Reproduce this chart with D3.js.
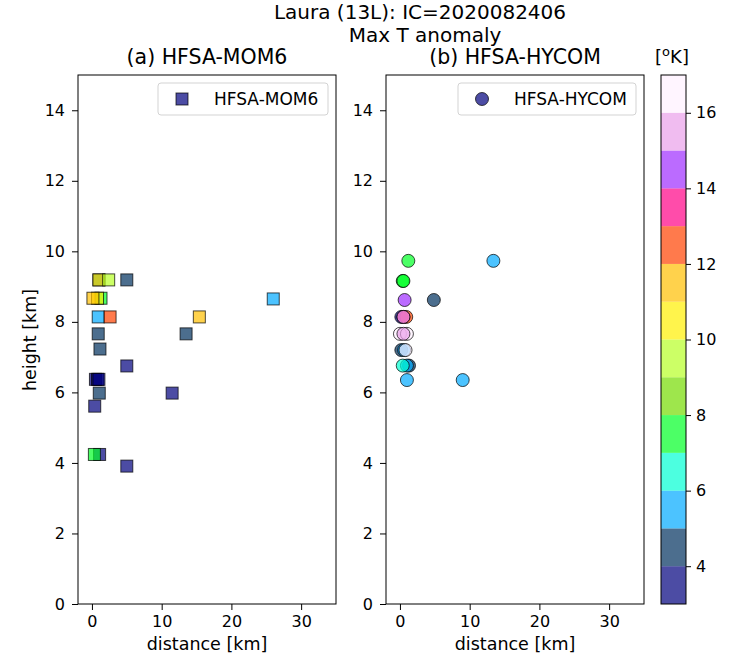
<!DOCTYPE html>
<html>
<head>
<meta charset="utf-8">
<script src="https://cdn.jsdelivr.net/npm/d3@7"></script>
<style>
  body { margin: 0; background: #fff; }
  svg text { font-family: "DejaVu Sans", sans-serif; fill: #000; }
</style>
</head>
<body>
<svg id="chart" width="733" height="658"></svg>
<script>
// colour levels (K) and colormap
var levels = [3, 4, 5, 6, 7, 8, 9, 10, 11, 12, 13, 14, 15, 16, 17];
var cmapColors = ['#00007e', '#00305e', '#00a9ff', '#00ffd3', '#00ff25', '#75db00', '#b6ff25',
                  '#fff000', '#ffbf00', '#ff4100', '#ff0086', '#9e2cff', '#ea9fea', '#fff1ff'];
var cbarTicks = [4, 6, 8, 10, 12, 14, 16];
var xTicks = [0, 10, 20, 30];
var yTicks = [0, 2, 4, 6, 8, 10, 12, 14];

// (a) HFSA-MOM6
var distMOM6 = [1.0, 1.0, 2.4, 5.0, 1.3, 0.8, 0.14, 0.9, 2.6, 0.9, 1.15, 5.0, 0.5, 0.8, 1.0,
                1.05, 11.5, 0.4, 1.1, 0.35, 5.0, 26.0, 15.4, 13.5];
var htMOM6   = [9.19, 9.19, 9.19, 9.19, 8.67, 8.67, 8.67, 8.14, 8.14, 7.66, 7.23, 6.75, 6.37, 6.37, 6.37,
                5.98, 5.98, 5.61, 4.24, 4.24, 3.91, 8.65, 8.14, 7.66];
var dtMOM6   = [4.5, 10.5, 9.5, 4.5, 7.5, 10.5, 11.5, 5.5, 12.5, 4.5, 4.5, 3.5, 3.5, 3.5, 3.5,
                4.5, 3.5, 3.5, 3.5, 7.5, 3.5, 5.5, 11.5, 4.5];

// (b) HFSA-HYCOM
var distHYCOM = [1.2, 13.4, 0.4, 0.5, 0.67, 4.86, 0.2, 0.9, 0.5, 0.5, 0.0, 1.0, 0.5,
                 0.2, 0.6, 0.8, 1.3, 1.0, 0.4, 1.0, 9.0];
var htHYCOM   = [9.73, 9.73, 9.16, 9.16, 8.62, 8.62, 8.14, 8.14, 8.14, 8.14, 7.66, 7.66, 7.66,
                 7.2, 7.2, 7.2, 6.76, 6.76, 6.76, 6.35, 6.35];
var dtHYCOM   = [7.5, 5.5, 7.5, 7.5, 14.5, 4.5, 3.5, 12.5, 13.5, 15.5, 16.5, 16.5, 15.5,
                 4.5, 5.5, 16.5, 4.5, 5.5, 6.5, 5.5, 5.5];

var svg = d3.select('#chart');
var color = d3.scaleThreshold().domain(levels.slice(1, -1)).range(cmapColors);
var y = d3.scaleLinear().domain([0, 15]).range([604, 75]);

//Title
drawText(svg, 420, 19, 'Laura (13L): IC=2020082406', 20, 'middle');
drawText(svg, 425, 42, 'Max T anomaly', 20, 'middle');

drawPanel(78, '(a) HFSA-MOM6', 'HFSA-MOM6', 'square', distMOM6, htMOM6, dtMOM6, true);
drawPanel(386, '(b) HFSA-HYCOM', 'HFSA-HYCOM', 'circle', distHYCOM, htHYCOM, dtHYCOM, false);
drawColorbar(661, 686);

function drawPanel(left, title, label, shape, dist, ht, dt, yLabel) {
    var x = d3.scaleLinear().domain([-2, 35]).range([left, left + 258]);
    var g = svg.append('g');

    //Axes
    g.append('g').attr('transform', 'translate(0,604)')
     .call(d3.axisBottom(x).tickValues(xTicks).tickSize(6).tickPadding(6))
     .call(styleAxis);
    g.append('g').attr('transform', 'translate(' + left + ',0)')
     .call(d3.axisLeft(y).tickValues(yTicks).tickSize(6).tickPadding(7))
     .call(styleAxis);
    g.append('rect').attr('x', left).attr('y', 75).attr('width', 258).attr('height', 529)
     .attr('fill', 'none').attr('stroke', '#000').attr('stroke-width', 1);

    //Points
    var idx = d3.range(dist.length);
    if (shape === 'square') {
        g.selectAll('rect.pt').data(idx).enter().append('rect').attr('class', 'pt')
         .attr('x', function(i) { return x(dist[i]) - 6; })
         .attr('y', function(i) { return y(ht[i]) - 6; })
         .attr('width', 12).attr('height', 12)
         .attr('fill', function(i) { return color(dt[i]); })
         .call(styleMarker);
    } else {
        g.selectAll('circle.pt').data(idx).enter().append('circle').attr('class', 'pt')
         .attr('cx', function(i) { return x(dist[i]); })
         .attr('cy', function(i) { return y(ht[i]); })
         .attr('r', 6.5)
         .attr('fill', function(i) { return color(dt[i]); })
         .call(styleMarker);
    }

    //Titles
    drawText(g, left + 129, 64, title, 20.5, 'middle');
    drawText(g, left + 129, 650, 'distance [km]', 17.5, 'middle');
    if (yLabel) {
        g.append('text').attr('transform', 'translate(36,340) rotate(-90)')
         .attr('text-anchor', 'middle').style('font-size', '17.5px').text('height [km]');
    }

    //Legend
    var lw = shape === 'square' ? 170 : 178;
    var lx = left + 250 - lw;
    g.append('rect').attr('x', lx).attr('y', 83).attr('width', lw).attr('height', 32).attr('rx', 3)
     .attr('fill', '#fff').attr('fill-opacity', 0.8).attr('stroke', '#d3d3d3');
    if (shape === 'square') {
        g.append('rect').attr('x', lx + 18).attr('y', 93).attr('width', 12).attr('height', 12)
         .attr('fill', color(3.5)).call(styleMarker);
    } else {
        g.append('circle').attr('cx', lx + 24).attr('cy', 99).attr('r', 6.5)
         .attr('fill', color(3.5)).call(styleMarker);
    }
    drawText(g, lx + 56, 105, label, 17, 'start');
}

function drawColorbar(x0, x1) {
    var cy = d3.scaleLinear().domain([3, 17]).range([604, 75]);
    var g = svg.append('g');
    g.selectAll('rect.bin').data(cmapColors).enter().append('rect').attr('class', 'bin')
     .attr('x', x0).attr('width', x1 - x0)
     .attr('y', function(d, i) { return cy(levels[i + 1]); })
     .attr('height', function(d, i) { return cy(levels[i]) - cy(levels[i + 1]); })
     .attr('fill', function(d) { return d; }).attr('fill-opacity', 0.7);
    g.append('rect').attr('x', x0).attr('y', 75).attr('width', x1 - x0).attr('height', 529)
     .attr('fill', 'none').attr('stroke', '#000');
    g.append('g').attr('transform', 'translate(' + x1 + ',0)')
     .call(d3.axisRight(cy).tickValues(cbarTicks).tickSize(5).tickPadding(5))
     .call(styleAxis);
    //Unit label
    var t = g.append('text').attr('x', 672).attr('y', 63).attr('text-anchor', 'middle')
             .style('font-size', '18px');
    t.append('tspan').text('[');
    t.append('tspan').attr('dy', -7).style('font-size', '13px').text('o');
    t.append('tspan').attr('dy', 7).text('K]');
}

function styleAxis(a) {
    a.select('.domain').remove();
    a.selectAll('line').attr('stroke', '#000');
    a.selectAll('text').style('font-size', '16px').style('font-family', '"DejaVu Sans", sans-serif');
}

function styleMarker(m) {
    m.attr('fill-opacity', 0.7).attr('stroke', '#000').attr('stroke-opacity', 0.7).attr('stroke-width', 1);
}

function drawText(container, x, y, text, size, anchor) {
    container.append('text')
             .attr('x', x)
             .attr('y', y)
             .attr('text-anchor', anchor)
             .style('font-size', size + 'px')
             .text(text);
}
</script>
</body>
</html>
